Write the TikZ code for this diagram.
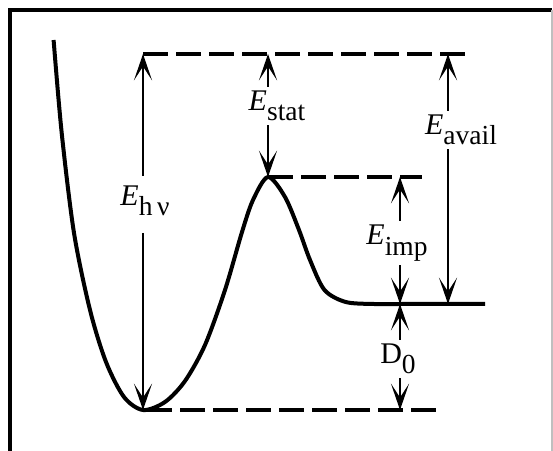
\documentclass[tikz,border=0pt]{standalone}
\usepackage{fontspec}
\setmainfont{Liberation Serif}
\usetikzlibrary{arrows.meta}
\newcommand{\elabel}[2]{#1\raisebox{-4.2pt}{\fontsize{11}{13}\selectfont #2}}

\begin{document}
\begin{tikzpicture}[x=0.4pt, y=-0.4pt, every node/.style={font=\fontsize{12}{14}\selectfont, inner sep=1.5pt}, >={Stealth[length=10.5pt, width=7.2pt, inset=5.5pt]}, level/.style={line width=1.3pt, dash pattern=on 10pt off 3.2pt}, gap/.style={->, line width=1pt}]
	\useasboundingbox (0,0) rectangle (553,451);
	% frame
	\draw[line width=1.3pt] (10,451) -- (10,10) -- (552,10);
	\draw[gray!50, line width=0.6pt] (552,10) -- (552,451);
	% levels
	\coordinate (min) at (143,410);
	\coordinate (peak) at (268,177);
	\coordinate (plat) at (400,304);
	\coordinate (platend) at (485,304);
	\coordinate (top) at (143,54);
	\coordinate (topend) at (470,54);
	\coordinate (stattop) at (268,54);
	\coordinate (availtop) at (448,54);
	\coordinate (availbot) at (448,304);
	\coordinate (imptop) at (400,177);
	\coordinate (peakend) at (422,177);
	\coordinate (botstart) at (147,410);
	\coordinate (d0bot) at (400,410);
	\coordinate (botend) at (440,410);
	\draw[level] (top) -- (topend);
	\draw[level] (peak) -- (peakend);
	\draw[level] (botstart) -- (botend);
	% potential curve
	\draw[line width=1.6pt] plot[smooth] coordinates {(53.6,40) (61.7,133) (74,233) (90,310) (106,362) (124,397) (min) (165,402) (185,381) (205,345) (225,290) (242,232) (253,200) (peak) (285,197) (299,230) (310,260) (324.5,290) (345.7,302) (374,304) (plat)} -- (platend);
	% labels
	\node (estat) at (277,106) {\elabel{\textit{E}}{stat}};
	\node (eavail) at (461,130) {\elabel{\textit{E}}{avail}};
	\node (ehv) at (145,201) {\elabel{\textit{E}}{h\,ν}};
	\node (eimp) at (397,243) {\elabel{\textit{E}}{imp}};
	\node (dzero) at (398,359) {\elabel{D}{0}};
	% energy gaps
	\draw[gap] (estat.north -| stattop) -- (stattop);
	\draw[gap] (estat.south -| stattop) -- (peak);
	\draw[gap, shorten <=2.4pt] (ehv.north -| top) -- (top);
	\draw[gap, shorten <=5pt] (ehv.south -| top) -- (min);
	\draw[gap] (eavail.north -| availtop) -- (availtop);
	\draw[gap] (eavail.south -| availtop) -- (availbot);
	\draw[gap] (eimp.north -| plat) -- (imptop);
	\draw[gap] (eimp.south -| plat) -- (plat);
	\draw[gap] (dzero.north -| plat) -- (plat);
	\draw[gap] (dzero.south -| plat) -- (d0bot);
\end{tikzpicture}
\end{document}
